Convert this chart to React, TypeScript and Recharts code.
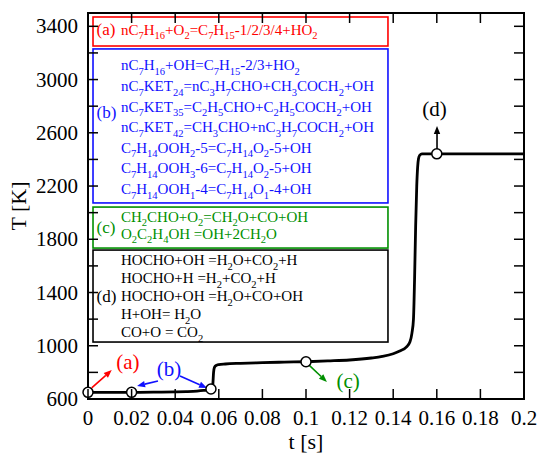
import React from 'react';
import {
  ComposedChart,
  Line,
  Scatter,
  XAxis,
  YAxis,
  ReferenceArea,
  ReferenceLine,
  ReferenceDot,
} from 'recharts';

// ---------------- data ----------------
const timeS = [
  0, 0.01, 0.02, 0.03, 0.04, 0.045, 0.05, 0.053, 0.0555, 0.0565, 0.0572, 0.0576, 0.058,
  0.0588, 0.06, 0.063, 0.07, 0.08, 0.09, 0.1, 0.11, 0.12, 0.13, 0.135, 0.14, 0.143,
  0.146, 0.1477, 0.1486, 0.1493, 0.1498, 0.1503, 0.1508, 0.1512, 0.1516, 0.1522,
  0.1532, 0.16, 0.18, 0.2,
];
const tempK = [
  650, 650, 650, 651, 653, 655, 659, 664, 670, 676, 700, 800, 838,
  852, 858, 863, 868, 873, 877, 880, 886, 893, 908, 920, 940, 960,
  990, 1030, 1095, 1200, 1500, 1900, 2200, 2340, 2405, 2432,
  2441, 2442, 2442, 2442,
];
const markerTime = [0, 0.02, 0.0564, 0.1, 0.16];
const markerTemp = [650, 650, 675, 880, 2442];

const xTicks = [0, 0.02, 0.04, 0.06, 0.08, 0.1, 0.12, 0.14, 0.16, 0.18, 0.2];
const yTicks = [600, 800, 1000, 1200, 1400, 1600, 1800, 2000, 2200, 2400, 2600, 2800, 3000, 3200, 3400];
const yTickLabels = [600, 1000, 1400, 1800, 2200, 2600, 3000, 3400];

const reactionsA = ['nC_7H_16+O_2=C_7H_15-1/2/3/4+HO_2'];
const reactionsB = [
  'nC_7H_16+OH=C_7H_15-2/3+HO_2',
  'nC_7KET_24=nC_3H_7CHO+CH_3COCH_2+OH',
  'nC_7KET_35=C_2H_5CHO+C_2H_5COCH_2+OH',
  'nC_7KET_42=CH_3CHO+nC_3H_7COCH_2+OH',
  'C_7H_14OOH_2-5=C_7H_14O_2-5+OH',
  'C_7H_14OOH_3-6=C_7H_14O_2-5+OH',
  'C_7H_14OOH_1-4=C_7H_14O_1-4+OH',
];
const reactionsC = ['CH_2CHO+O_2=CH_2O+CO+OH', 'O_2C_2H_4OH =OH+2CH_2O'];
const reactionsD = [
  'HOCHO+OH =H_2O+CO_2+H',
  'HOCHO+H =H_2+CO_2+H',
  'HOCHO+OH =H_2O+CO+OH',
  'H+OH= H_2O',
  'CO+O = CO_2',
];

const curve = timeS.map((t, i) => ({ t, T: tempK[i] }));
const markers = markerTime.map((t, i) => ({ t, T: markerTemp[i] }));

// ---------------- style / layout ----------------
const W = 538;
const H = 454;
const PLOT_TOP = 13;
const PLOT_RIGHT = 524;
const FONT = 'Liberation Serif, Times New Roman, Times, serif';
const RED = '#ff0000';
const BLUE = '#1010ff';
const GREEN = '#008f00';
const TICK_LEN = 10;

const boxes = [
  { label: '(a)', color: RED, lines: reactionsA, t1: 0.0023, t2: 0.1376, T1: 3252, T2: 3470, first: 18, gap: 20, labelDy: 18 },
  { label: '(b)', color: BLUE, lines: reactionsB, t1: 0.0023, t2: 0.1376, T1: 2073, T2: 3230, first: 21.5, gap: 20.6, labelDy: 69 },
  { label: '(c)', color: GREEN, lines: reactionsC, t1: 0.0023, t2: 0.1376, T1: 1734, T2: 2042, first: 14.5, gap: 17, labelDy: 25.5 },
  { label: '(d)', color: '#000', lines: reactionsD, t1: 0.0023, t2: 0.1376, T1: 1028, T2: 1719, first: 15, gap: 18, labelDy: 51.7 },
];

const annoLabels = [
  { text: '(a)', t: 0.0183, T: 863, color: RED },
  { text: '(b)', t: 0.0372, T: 810, color: BLUE },
  { text: '(c)', t: 0.1193, T: 720, color: GREEN },
  { text: '(d)', t: 0.159, T: 2760, color: '#000' },
];

const arrows = [
  { from: [0.0017, 683], to: [0.0109, 818], color: RED },
  { from: [0.0321, 735], to: [0.0225, 698], color: BLUE },
  { from: [0.0422, 773], to: [0.0546, 683], color: BLUE },
  { from: [0.1014, 855], to: [0.1096, 728], color: GREEN },
  { from: [0.1601, 2463], to: [0.1601, 2651], color: '#000' },
];

// ---------------- helpers ----------------
function chemSegments(s: string) {
  return s
    .split(/(_\d+)/)
    .filter((p) => p.length > 0)
    .map((p) => (p.startsWith('_') ? { t: p.slice(1), sub: true } : { t: p, sub: false }));
}

function ChemText({ x, y, s, size, color }: { x: number; y: number; s: string; size: number; color: string }) {
  const segs = chemSegments(s);
  const off = size * 0.3;
  let prevSub = false;
  return (
    <text x={x} y={y} fontSize={size} fill={color} fontFamily={FONT} style={{ whiteSpace: 'pre' }}>
      {segs.map((g, i) => {
        const dy = (g.sub ? off : 0) - (prevSub ? off : 0);
        prevSub = g.sub;
        return (
          <tspan key={i} dy={dy} fontSize={g.sub ? size * 0.7 : size}>
            {g.t}
          </tspan>
        );
      })}
    </text>
  );
}

const XTick = (p: any) => {
  const { x, y, payload } = p;
  const v = payload.value as number;
  const label = String(Number(v.toFixed(2)));
  return (
    <g>
      <line x1={x} y1={y} x2={x} y2={y - TICK_LEN} stroke="#000" strokeWidth={1.5} />
      <line x1={x} y1={PLOT_TOP} x2={x} y2={PLOT_TOP + TICK_LEN} stroke="#000" strokeWidth={1.5} />
      <text x={x} y={y + 26} textAnchor="middle" fontSize={21} fontFamily={FONT} fill="#000">
        {label}
      </text>
    </g>
  );
};

const YTick = (p: any) => {
  const { x, y, payload } = p;
  const v = payload.value as number;
  return (
    <g>
      <line x1={x} y1={y} x2={x + TICK_LEN} y2={y} stroke="#000" strokeWidth={1.5} />
      <line x1={PLOT_RIGHT} y1={y} x2={PLOT_RIGHT - TICK_LEN} y2={y} stroke="#000" strokeWidth={1.5} />
      {yTickLabels.includes(v) && (
        <text x={x - 10} y={y + 7} textAnchor="end" fontSize={21} fontFamily={FONT} fill="#000">
          {v}
        </text>
      )}
    </g>
  );
};

const yLabel = (props: any) => {
  const vb = props.viewBox || { x: 0, y: 13, width: 88, height: 386 };
  const cx = 26;
  const cy = vb.y + vb.height / 2;
  return (
    <text x={cx} y={cy} transform={`rotate(-90 ${cx} ${cy})`} textAnchor="middle" fontSize={22} fontFamily={FONT} fill="#000">
      T [K]
    </text>
  );
};

const xLabel = (props: any) => {
  const vb = props.viewBox || { x: 88, y: 399, width: 436, height: 55 };
  return (
    <text x={vb.x + vb.width / 2} y={vb.y + 50} textAnchor="middle" fontSize={22} fontFamily={FONT} fill="#000">
      t [s]
    </text>
  );
};

const arrowShape = (color: string) => (p: any) => {
  const { x1, y1, x2, y2 } = p;
  const dx = x2 - x1;
  const dy = y2 - y1;
  const len = Math.sqrt(dx * dx + dy * dy) || 1;
  const ux = dx / len;
  const uy = dy / len;
  const hl = 8;
  const hw = 3.2;
  const bx = x2 - ux * hl;
  const by = y2 - uy * hl;
  return (
    <g>
      <line x1={x1} y1={y1} x2={bx} y2={by} stroke={color} strokeWidth={1.6} />
      <polygon
        points={`${x2},${y2} ${bx - uy * hw},${by + ux * hw} ${bx + uy * hw},${by - ux * hw}`}
        fill={color}
      />
    </g>
  );
};

const boxShape = (b: (typeof boxes)[number]) => (p: any) => {
  const { x, y, width, height } = p;
  return (
    <g>
      <rect x={x} y={y} width={width} height={height} fill="#fff" stroke={b.color} strokeWidth={1.6} />
      <text x={x + 3.5} y={y + b.labelDy} fontSize={17} fontFamily={FONT} fill={b.color}>
        {b.label}
      </text>
      {b.lines.map((s, i) => (
        <ChemText key={i} x={x + 28} y={y + b.first + i * b.gap} s={s} size={15} color={b.color} />
      ))}
    </g>
  );
};

const frameShape = (p: any) => (
  <rect x={p.x} y={p.y} width={p.width} height={p.height} fill="none" stroke="#000" strokeWidth={2} />
);

const markerShape = (p: any) => (
  <circle cx={p.cx} cy={p.cy} r={5} fill="#fff" stroke="#000" strokeWidth={1.5} />
);

export default function App() {
  return (
    <div style={{ position: 'absolute', left: 0, top: 0, width: W, height: H, background: '#fff' }}>
      <ComposedChart width={W} height={H} margin={{ top: 13, right: 14, bottom: 0, left: 0 }}>
        <XAxis
          dataKey="t"
          type="number"
          domain={[0, 0.2]}
          ticks={xTicks}
          interval={0}
          axisLine={false}
          tickLine={false}
          tickSize={0}
          tickMargin={0}
          height={55}
          tick={XTick}
          label={xLabel}
        />
        <YAxis
          type="number"
          domain={[600, 3500]}
          ticks={yTicks}
          interval={0}
          axisLine={false}
          tickLine={false}
          tickSize={0}
          tickMargin={0}
          width={88}
          tick={YTick}
          label={yLabel}
        />
        <ReferenceArea x1={0} x2={0.2} y1={600} y2={3500} shape={frameShape} zIndex={650} />
        {boxes.map((b) => (
          <ReferenceArea key={b.label} x1={b.t1} x2={b.t2} y1={b.T1} y2={b.T2} shape={boxShape(b)} zIndex={700} />
        ))}
        <Line
          data={curve}
          dataKey="T"
          type="monotone"
          stroke="#000"
          strokeWidth={2.8}
          dot={false}
          isAnimationActive={false}
        />
        {arrows.map((a, i) => (
          <ReferenceLine
            key={i}
            segment={[
              { x: a.from[0], y: a.from[1] },
              { x: a.to[0], y: a.to[1] },
            ]}
            shape={arrowShape(a.color)}
            zIndex={750}
          />
        ))}
        <Scatter data={markers} dataKey="T" shape={markerShape} isAnimationActive={false} zIndex={800} />
        {annoLabels.map((l) => (
          <ReferenceDot
            key={l.text}
            x={l.t}
            y={l.T}
            r={0}
            zIndex={800}
            shape={(p: any) => (
              <text x={p.cx} y={p.cy + 5} textAnchor="middle" fontSize={21} fontFamily={FONT} fill={l.color}>
                {l.text}
              </text>
            )}
          />
        ))}
      </ComposedChart>
    </div>
  );
}
